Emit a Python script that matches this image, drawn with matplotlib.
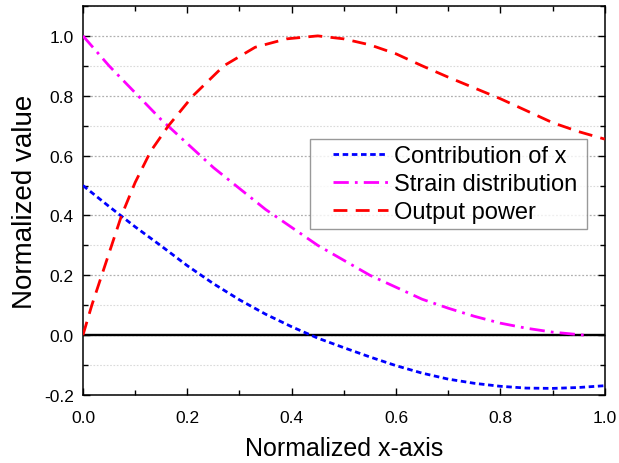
import numpy as np
import matplotlib.pyplot as plt
from matplotlib.ticker import MultipleLocator
from matplotlib.legend_handler import HandlerLine2D

plt.rcParams['font.family'] = ['Liberation Sans', 'DejaVu Sans']

# Datos
x_contrib = [0, 0.05, 0.1, 0.15, 0.2, 0.25, 0.3, 0.35, 0.4, 0.45, 0.5,
             0.55, 0.6, 0.65, 0.7, 0.75, 0.8, 0.85, 0.9, 0.95, 1.0]
y_contrib = [0.50, 0.43, 0.362, 0.298, 0.232, 0.172, 0.118, 0.07, 0.028, -0.01, -0.042,
             -0.073, -0.102, -0.127, -0.147, -0.161, -0.171, -0.177, -0.178, -0.175, -0.169]

x_strain = [0, 0.05, 0.1, 0.15, 0.2, 0.25, 0.3, 0.35, 0.4, 0.45, 0.5,
            0.55, 0.6, 0.65, 0.7, 0.75, 0.8, 0.85, 0.9, 0.96]
y_strain = [1.0, 0.90, 0.81, 0.72, 0.64, 0.56, 0.49, 0.42, 0.36, 0.30, 0.25,
            0.20, 0.16, 0.12, 0.09, 0.063, 0.04, 0.023, 0.01, 0.0]

x_power = [0, 0.017, 0.036, 0.055, 0.074, 0.1, 0.13, 0.164, 0.211, 0.27, 0.33,
           0.39, 0.45, 0.5, 0.55, 0.6, 0.65, 0.7, 0.75, 0.8, 0.85, 0.9, 0.95, 1.0]
y_power = [0, 0.1, 0.2, 0.3, 0.4, 0.51, 0.615, 0.70, 0.80, 0.9, 0.962,
           0.99, 1.0, 0.99, 0.97, 0.94, 0.90, 0.862, 0.826, 0.79, 0.75, 0.71, 0.68, 0.655]

fig = plt.figure(figsize=(6.19, 4.64), dpi=100)
ax = fig.add_axes([0.134, 0.1466, 0.843, 0.8384])

# Rejilla horizontal
ax.yaxis.set_major_locator(MultipleLocator(0.2))
ax.yaxis.set_minor_locator(MultipleLocator(0.1))
ax.xaxis.set_major_locator(MultipleLocator(0.2))
ax.xaxis.set_minor_locator(MultipleLocator(0.1))
ax.grid(True, axis='y', which='major', color='#b0b0b0', linestyle=(0, (1.5, 1.5)), linewidth=0.9)
ax.grid(True, axis='y', which='minor', color='#dadada', linestyle=(0, (1.5, 1.5)), linewidth=0.8)
ax.set_axisbelow(True)

ax.axhline(0, color='black', linewidth=1.7, zorder=2)

ax.plot(x_contrib, y_contrib, color='blue', linewidth=2, linestyle=(0, (2.0, 1.3)),
        label='Contribution of x', zorder=3)
ax.plot(x_strain, y_strain, color='magenta', linewidth=2, linestyle=(0, (5.5, 2.2, 1.0, 2.2)),
        label='Strain distribution', zorder=3)
ax.plot(x_power, y_power, color='red', linewidth=2, linestyle=(0, (5.0, 3.0)),
        label='Output power', zorder=3)

ax.set_xlim(0, 1.0)
ax.set_ylim(-0.2, 1.1)
ax.set_xticks([0, 0.2, 0.4, 0.6, 0.8, 1.0])
ax.set_xticklabels(['0.0', '0.2', '0.4', '0.6', '0.8', '1.0'])
ax.set_yticks([-0.2, 0, 0.2, 0.4, 0.6, 0.8, 1.0])
ax.set_yticklabels(['-0.2', '0.0', '0.2', '0.4', '0.6', '0.8', '1.0'])

ax.tick_params(which='both', direction='in', top=True, right=True, labelsize=12.5, width=1.0)
ax.tick_params(which='major', length=5)
ax.tick_params(which='minor', length=3.5)
ax.tick_params(axis='x', pad=10.5)
ax.tick_params(axis='y', pad=6.5)
for s in ax.spines.values():
    s.set_linewidth(1.1)

ax.set_xlabel('Normalized x-axis', fontsize=18, labelpad=8)
ax.set_ylabel('Normalized value', fontsize=20, labelpad=4)

hm = {ln: HandlerLine2D(xpad=0.72) for ln in ax.get_lines()[1:]}
leg = ax.legend(loc='upper left', bbox_to_anchor=(0.435, 0.658, 0.531, 0.0), mode='expand',
                fontsize=17, frameon=True, fancybox=False, edgecolor='#808080', borderaxespad=0,
                handlelength=3.05, handletextpad=0.28, labelspacing=0.26, borderpad=0.25,
                handler_map=hm)
leg.get_frame().set_linewidth(1.0)

plt.savefig('out.png', dpi=100)
plt.close()
